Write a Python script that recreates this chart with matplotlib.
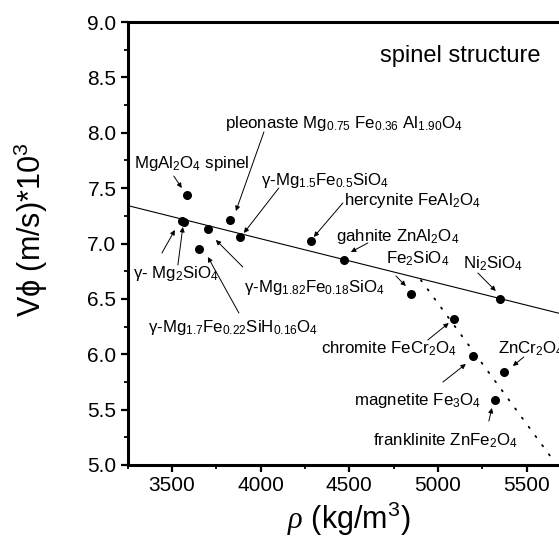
import matplotlib
matplotlib.use("Agg")
import matplotlib.pyplot as plt
import numpy as np

plt.rcParams['font.family'] = ['Liberation Sans', 'DejaVu Sans']
plt.rcParams['mathtext.fontset'] = 'custom'
plt.rcParams['mathtext.rm'] = 'Liberation Sans'
plt.rcParams['mathtext.it'] = 'Liberation Serif:italic'
plt.rcParams['mathtext.default'] = 'regular'

# ---- data ----
rho = [3584, 3555, 3570, 3705, 3829, 3883, 3654, 4284, 4468, 4847, 5351, 5091, 5200, 5370, 5321]
vphi = [7.44, 7.20, 7.19, 7.13, 7.21, 7.06, 6.95, 7.02, 6.85, 6.54, 6.50, 6.32, 5.98, 5.84, 5.59]

# linear trends (intercept, slope) and x range
solid_fit = (8.643, -0.0004)
solid_range = (3250, 5750)
dotted_fit = (17.36, -0.00218)
dotted_range = (4904, 5637)

xlim = (3250, 5750)
ylim = (5.0, 9.0)
xticks = [3500, 4000, 4500, 5000, 5500]
yticks = [5.0, 5.5, 6.0, 6.5, 7.0, 7.5, 8.0, 8.5, 9.0]

labels = [
    ("MgAl$_2$O$_4$ spinel", (3286, 7.682)),
    ("pleonaste Mg$_{0.75}$ Fe$_{0.36}$ Al$_{1.90}$O$_4$", (3799, 8.046)),
    ("γ-Mg$_{1.5}$Fe$_{0.5}$SiO$_4$", (4002, 7.528)),
    ("hercynite FeAl$_2$O$_4$", (4470, 7.348)),
    ("gahnite ZnAl$_2$O$_4$", (4424, 7.026)),
    ("Fe$_2$SiO$_4$", (4706, 6.824)),
    ("Ni$_2$SiO$_4$", (5140, 6.779)),
    ("γ- Mg$_2$SiO$_4$", (3280, 6.688)),
    ("γ-Mg$_{1.82}$Fe$_{0.18}$SiO$_4$", (3906, 6.562)),
    ("γ-Mg$_{1.7}$Fe$_{0.22}$SiH$_{0.16}$O$_4$", (3365, 6.201)),
    ("chromite FeCr$_2$O$_4$", (4340, 6.011)),
    ("magnetite Fe$_3$O$_4$", (4526, 5.542)),
    ("franklinite ZnFe$_2$O$_4$", (4633, 5.181)),
    ("ZnCr$_2$O$_4$", (5338, 6.011)),
]

arrows = [  # (tail, head)
    ((3511, 7.609), (3556, 7.501)),
    ((4019, 8.007), (3861, 7.293)),
    ((4103, 7.501), (3906, 7.095)),
    ((4464, 7.366), (4300, 7.059)),
    ((4605, 7.005), (4509, 6.923)),
    ((4763, 6.707), (4819, 6.616)),
    ((5225, 6.734), (5326, 6.571)),
    ((3444, 6.914), (3517, 7.122)),
    ((3534, 6.806), (3562, 7.149)),
    ((3900, 6.788), (3748, 7.032)),
    ((3878, 6.372), (3703, 6.878)),
    ((4943, 6.129), (5061, 6.282)),
    ((5028, 5.749), (5157, 5.912)),
    ((5287, 5.397), (5304, 5.515)),
    ((5484, 5.975), (5422, 5.894)),
]

fig = plt.figure(figsize=(5.59, 5.42), dpi=100)
ax = fig.add_axes([127.5/559, 1-465/542, 443.5/559, 443/542])

xs = np.linspace(*solid_range, 50)
ax.plot(xs, solid_fit[0] + solid_fit[1]*xs, color='black', lw=0.8)
xd = np.linspace(*dotted_range, 50)
ax.plot(xd, dotted_fit[0] + dotted_fit[1]*xd, color='black', lw=1.3,
        linestyle=(0, (0.8, 5.5)), dash_capstyle='round')
ax.plot(rho, vphi, 'o', color='black', markersize=6.5, markeredgewidth=0)

for txt, (x, y) in labels:
    ax.text(x, y, txt, fontsize=12.2, ha='left', va='baseline')
ax.text(4672, 8.639, "spinel structure", fontsize=17, ha='left', va='baseline')

for tail, head in arrows:
    ax.annotate('', xy=head, xytext=tail,
                arrowprops=dict(arrowstyle='-|>', color='black', lw=0.7,
                                mutation_scale=7, shrinkA=0, shrinkB=0))

ax.set_xlim(*xlim)
ax.set_ylim(*ylim)
ax.set_xticks(xticks)
ax.set_yticks(yticks)
ax.set_yticklabels([f"{v:.1f}" for v in yticks])
ax.set_xticks(np.arange(3250, 5751, 250), minor=True)
ax.set_yticks(np.arange(5.0, 9.01, 0.25), minor=True)
ax.tick_params(which='major', direction='out', length=5, width=1.6, labelsize=15, pad=3)
ax.tick_params(which='minor', direction='out', length=3, width=1.3)
for s in ax.spines.values():
    s.set_linewidth(2.2)

ax.set_xlabel("$\\mathit{\\rho}$ (kg/m$^3$)", fontsize=22, labelpad=3)
ax.set_ylabel("V\u03d5 (m/s)*10$^3$", fontsize=22)
ax.yaxis.set_label_coords(-0.175, 0.53)

fig.savefig("out.png", dpi=100)
